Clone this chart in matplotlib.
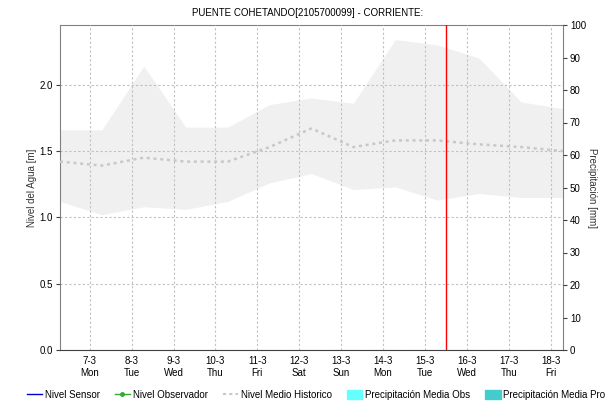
import datetime as dt
import matplotlib
matplotlib.use("Agg")
import matplotlib.pyplot as plt
from matplotlib.lines import Line2D
from matplotlib.patches import Patch

plt.rcParams['font.family'] = ['Liberation Sans', 'DejaVu Sans']

# datos historicos diarios (07:00), nivel en metros
fechas = [dt.datetime(2022, 3, d, 7, 0) for d in range(6, 19)]
nivel_max = [1.66, 1.66, 2.14, 1.68, 1.68, 1.85, 1.90, 1.86, 2.34, 2.30, 2.20, 1.87, 1.82]
nivel_min = [1.12, 1.02, 1.08, 1.06, 1.12, 1.26, 1.33, 1.21, 1.23, 1.13, 1.18, 1.15, 1.15]
nivel_medio = [1.42, 1.39, 1.45, 1.42, 1.42, 1.53, 1.67, 1.53, 1.58, 1.58, 1.55, 1.53, 1.50]
hora_actual = dt.datetime(2022, 3, 15, 12, 0)

titulo = "PUENTE COHETANDO[2105700099] - CORRIENTE:"

fig = plt.figure(figsize=(6.15, 4.07), dpi=100)
ax = fig.add_axes([60 / 615, 1 - 350 / 407, (563 - 60) / 615, (350 - 25) / 407])

gris_borde = "#808080"
gris_grid = "#c0c0c0"

ax.fill_between(fechas, nivel_min, nivel_max, color="#f0f0f0", lw=0, zorder=1)
ax.plot(fechas, nivel_medio, color="#c8c8c8", lw=1.8, ls=(0, (1.2, 1.5)), zorder=3)
ax.axvline(hora_actual, color="red", lw=1, zorder=4)

ax.set_xlim(fechas[0], fechas[-1])
ax.set_ylim(0, 2.45)
ax.set_yticks([0, 0.5, 1.0, 1.5, 2.0])
ax.yaxis.set_major_formatter(plt.FuncFormatter(lambda v, p: f"{v:.1f}"))

dias = [dt.datetime(2022, 3, d) for d in range(7, 19)]
ax.set_xticks(dias)
ax.set_xticklabels([f"{d.day}-{d.month}\n{d:%a}" for d in dias], fontsize=7,
                   linespacing=1.3)
ax.tick_params(axis='x', length=0, pad=4)
ax.tick_params(axis='y', labelsize=7, length=3, color="#404040", pad=2)

ax.set_axisbelow(False)
ax.grid(True, color=gris_grid, lw=0.8, ls=(0, (2, 2)), zorder=2)

for s in ["left", "top", "right"]:
    ax.spines[s].set_color(gris_borde)
ax.spines["bottom"].set_color("#404040")
ax.spines["bottom"].set_linestyle((0, (1, 1)))

ax.set_ylabel("Nivel del Agua [m]", fontsize=7, color="#333333", labelpad=2)

# eje de precipitacion a la derecha
ax2 = ax.twinx()
ax2.set_ylim(0, 100)
ax2.set_yticks(range(0, 101, 10))
ax2.tick_params(axis='y', labelsize=7, length=3, color="#404040", pad=2)
for s in ax2.spines.values():
    s.set_visible(False)
ax2.set_ylabel("Precipitación [mm]", fontsize=7, color="#333333", rotation=-90,
               labelpad=8)

fig.text(0.5, 1 - 13 / 407, titulo, ha="center", va="center", fontsize=7)

handles = [
    Line2D([], [], color="#0000cc", lw=1),
    Line2D([], [], color="#33aa33", lw=1, marker="o", markersize=2.5),
    Line2D([], [], color="#c8c8c8", lw=1.5, ls=(0, (1.5, 1.5))),
    Patch(color="#66ffff"),
    Patch(color="#44cccc"),
]
labels = ["Nivel Sensor", "Nivel Observador", "Nivel Medio Historico",
          "Precipitación Media Obs", "Precipitación Media Pro"]
fig.legend(handles, labels, loc="center", bbox_to_anchor=(0.514, 1 - 395 / 407),
           ncol=5, frameon=False, fontsize=7, handlelength=1.6, handletextpad=0.3,
           columnspacing=1.5, handleheight=1.0)

fig.savefig("out.png", dpi=100)
